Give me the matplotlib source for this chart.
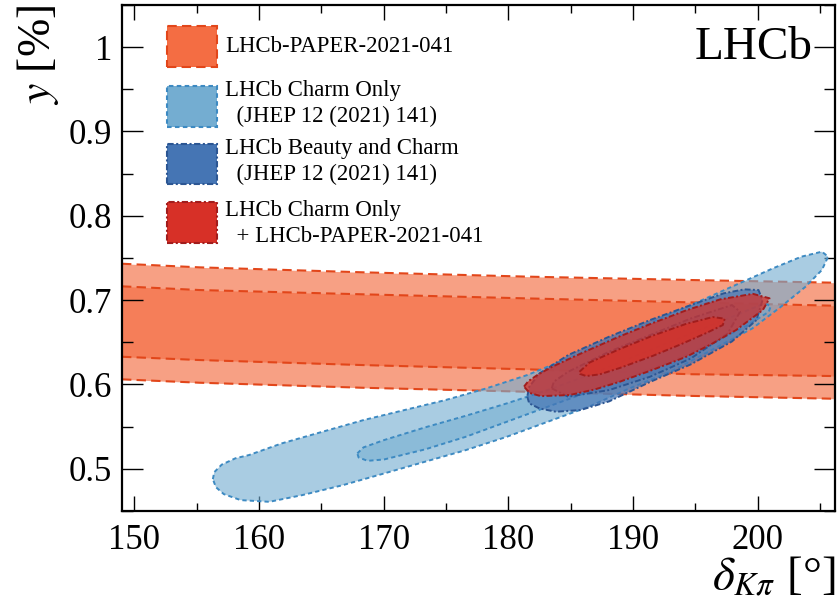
import matplotlib
matplotlib.use('Agg')
import matplotlib.pyplot as plt
from matplotlib.patches import Polygon, Rectangle
from matplotlib.ticker import MultipleLocator
import numpy as np

# ---------------- data ----------------
# LHCb-PAPER-2021-041 band edges (delta_Kpi [deg] -> y [%])
band_delta = [149.0, 155.24, 168.4, 181.5, 194.6, 206.2]
band_outer_hi = [0.7432, 0.7389, 0.7330, 0.7279, 0.7239, 0.7207]
band_inner_hi = [0.7164, 0.7120, 0.7069, 0.7021, 0.6974, 0.6934]
band_inner_lo = [0.6329, 0.6290, 0.6230, 0.6180, 0.6122, 0.6100]
band_outer_lo = [0.6061, 0.6021, 0.5961, 0.5914, 0.5865, 0.5831]

# LHCb Charm Only, outer contour
charm_out_d = [156.29, 156.40, 157.00, 158.10, 159.18, 161.80, 165.09, 168.37, 171.66,
               174.94, 178.23, 181.51, 184.79, 188.08, 191.36, 194.65, 197.93, 201.21,
               203.51, 205.15, 205.65, 205.15, 203.84, 201.87, 199.57, 196.29, 193.00,
               189.72, 186.44, 183.15, 179.87, 176.58, 173.30, 170.02, 166.73, 163.45,
               160.82, 158.52, 157.17, 156.53]
charm_out_y = [0.4878, 0.4960, 0.5050, 0.5125, 0.5163, 0.5301, 0.5440, 0.5578, 0.5697,
               0.5815, 0.5954, 0.6112, 0.6310, 0.6527, 0.6733, 0.6942, 0.7160, 0.7377,
               0.7516, 0.7575, 0.7516, 0.7358, 0.7160, 0.6923, 0.6665, 0.6408, 0.6151,
               0.5954, 0.5736, 0.5558, 0.5380, 0.5222, 0.5084, 0.4945, 0.4807, 0.4688,
               0.4609, 0.4629, 0.4700, 0.4783]
# LHCb Charm Only, inner contour
charm_in_d = [167.88, 168.37, 170.02, 173.30, 176.58, 179.87, 183.15, 186.44, 189.72,
              193.00, 196.29, 198.91, 200.56, 201.05, 200.89, 199.24, 196.29, 193.00,
              189.72, 186.44, 183.15, 179.87, 176.58, 173.30, 170.02, 168.70, 167.98]
charm_in_y = [0.5183, 0.5254, 0.5341, 0.5491, 0.5629, 0.5776, 0.5934, 0.6112, 0.6310,
              0.6507, 0.6705, 0.6863, 0.6962, 0.6930, 0.6863, 0.6705, 0.6488, 0.6270,
              0.6092, 0.5914, 0.5736, 0.5558, 0.5380, 0.5230, 0.5111, 0.5095, 0.5135]
# LHCb Beauty and Charm, outer and inner contours
beauty_out_d = [181.51, 181.67, 182.49, 183.81, 185.78, 188.08, 191.36, 194.65, 197.93,
                199.90, 200.39, 200.06, 198.91, 197.27, 194.65, 191.36, 188.08, 184.79,
                182.49, 181.67]
beauty_out_y = [0.5855, 0.5776, 0.5716, 0.5677, 0.5697, 0.5800, 0.6030, 0.6240, 0.6510,
                0.6764, 0.7002, 0.7120, 0.7128, 0.7081, 0.6942, 0.6764, 0.6567, 0.6349,
                0.6131, 0.5973]
beauty_in_d = [183.48, 184.79, 188.08, 191.36, 194.65, 197.60, 198.58, 197.93, 194.65,
               191.36, 188.08, 184.79, 183.64]
beauty_in_y = [0.5954, 0.5855, 0.5934, 0.6092, 0.6310, 0.6606, 0.6863, 0.6942, 0.6784,
               0.6586, 0.6389, 0.6151, 0.6033]
# LHCb Charm Only + LHCb-PAPER-2021-041, outer and inner contours
comb_out_d = [181.25, 181.60, 182.40, 183.57, 186.00, 188.92, 191.60, 194.27, 197.00,
              199.61, 200.95, 200.41, 198.27, 196.30, 194.27, 191.60, 188.92, 186.90,
              184.91, 182.60, 181.70]
comb_out_y = [0.5975, 0.6040, 0.6120, 0.6215, 0.6380, 0.6570, 0.6730, 0.6880, 0.7010,
              0.7075, 0.7022, 0.6883, 0.6646, 0.6480, 0.6329, 0.6175, 0.6032, 0.5940,
              0.5875, 0.5862, 0.5900]
comb_in_d = [185.70, 186.50, 188.92, 191.59, 194.27, 196.40, 197.35, 197.20, 195.87,
             193.73, 191.59, 188.92, 187.31, 186.25, 185.75]
comb_in_y = [0.6151, 0.6260, 0.6420, 0.6580, 0.6720, 0.6800, 0.6780, 0.6705, 0.6610,
             0.6470, 0.6340, 0.6195, 0.6120, 0.6100, 0.6125]

legend_labels = ["LHCb-PAPER-2021-041",
                 "LHCb Charm Only\n  (JHEP 12 (2021) 141)",
                 "LHCb Beauty and Charm\n  (JHEP 12 (2021) 141)",
                 "LHCb Charm Only\n  + LHCb-PAPER-2021-041"]

x_ticks = [150, 160, 170, 180, 190, 200]
y_ticks = [0.5, 0.6, 0.7, 0.8, 0.9, 1.0]
y_ticklabels = ["0.5", "0.6", "0.7", "0.8", "0.9", "1"]

# ---------------- styling ----------------
c_orange = '#f46d43'
c_orange_edge = '#e2461a'
c_lblue = '#74add1'
c_lblue_edge = '#3d8ac2'
c_dblue = '#4575b4'
c_dblue_edge = '#2c5693'
c_red = '#d73027'
c_red_edge = '#a11d1d'

ls_orange = (0, (4.5, 2.5))
ls_lblue = (0, (2.2, 1.6))
ls_dblue = (0, (3.0, 1.2, 1.0, 1.2))
ls_red = (0, (3.0, 1.2, 1.0, 1.2))

plt.rcParams['font.family'] = ['Liberation Serif', 'DejaVu Serif']
plt.rcParams['mathtext.fontset'] = 'stix'

fig = plt.figure(figsize=(8.38, 6.03), dpi=100)
ax = fig.add_axes([0.14558, 0.15257, 0.85084, 0.83914])

# band
ax.fill_between(band_delta, band_outer_lo, band_outer_hi, color=c_orange, alpha=0.65,
                linewidth=0, zorder=1)
ax.fill_between(band_delta, band_inner_lo, band_inner_hi, color=c_orange, alpha=0.65,
                linewidth=0, zorder=1.1)
for edge in (band_outer_hi, band_inner_hi, band_inner_lo, band_outer_lo):
    ax.plot(band_delta, edge, color=c_orange_edge, linestyle=ls_orange, linewidth=1.5,
            zorder=1.2)


def contour(d, y, face, alpha, edge, ls, lw, z):
    pts = np.column_stack([d, y])
    ax.add_patch(Polygon(pts, closed=True, facecolor=face, alpha=alpha,
                         edgecolor='none', zorder=z))
    ax.add_patch(Polygon(pts, closed=True, fill=False, edgecolor=edge,
                         linestyle=ls, linewidth=lw, zorder=z + 0.05,
                         joinstyle='round'))


contour(charm_out_d, charm_out_y, c_lblue, 0.62, c_lblue_edge, ls_lblue, 1.4, 2)
contour(charm_in_d, charm_in_y, c_lblue, 0.55, c_lblue_edge, ls_lblue, 1.4, 2.2)
contour(beauty_out_d, beauty_out_y, c_dblue, 0.7, c_dblue_edge, ls_dblue, 1.4, 3)
contour(beauty_in_d, beauty_in_y, c_dblue, 0.5, c_dblue_edge, ls_dblue, 1.4, 3.2)
contour(comb_out_d, comb_out_y, c_red, 0.72, c_red_edge, ls_red, 1.4, 4)
contour(comb_in_d, comb_in_y, c_red, 0.75, c_red_edge, ls_red, 1.4, 4.2)

# axes
ax.set_xlim(149, 206.2)
ax.set_ylim(0.45, 1.05)
ax.set_xticks(x_ticks)
ax.set_xticklabels([str(t) for t in x_ticks])
ax.set_yticks(y_ticks)
ax.set_yticklabels(y_ticklabels)
ax.xaxis.set_minor_locator(MultipleLocator(5))
ax.yaxis.set_minor_locator(MultipleLocator(0.05))
ax.tick_params(axis='both', which='both', direction='in', top=True, right=True,
               labelsize=25, colors='black')
ax.tick_params(axis='x', which='major', length=10.8, width=1.0, pad=9)
ax.tick_params(axis='x', which='minor', length=5.8, width=1.0)
ax.tick_params(axis='y', which='major', length=15, width=1.0, pad=7)
ax.tick_params(axis='y', which='minor', length=8, width=1.0)
for sp in ax.spines.values():
    sp.set_linewidth(1.6)
    sp.set_zorder(10)

ax.set_xlabel(r'$\delta_{K\pi}$ [°]', fontsize=34)
ax.xaxis.label.set_ha('right')
ax.xaxis.label.set_va('center')
ax.xaxis.set_label_coords(1.0, -0.132)

ax.set_ylabel(r'$y$ [%]', fontsize=33)
ax.yaxis.label.set_rotation_mode('default')
ax.yaxis.label.set_ha('center')
ax.yaxis.label.set_va('top')
ax.yaxis.set_label_coords(-0.118, 1.0)

ax.text(0.968, 0.915, 'LHCb', transform=ax.transAxes, ha='right', va='center',
        fontsize=34, zorder=11)

# legend (manual)
leg_faces = [c_orange, c_lblue, c_dblue, c_red]
leg_edges = [c_orange_edge, c_lblue_edge, c_dblue_edge, c_red_edge]
leg_ls = [ls_orange, ls_lblue, ls_dblue, ls_red]
box_bottoms = [0.878, 0.759, 0.646, 0.530]
text_y = [0.917, 0.805, 0.690, 0.568]
for fc, ec, ls, bb, ty, lab in zip(leg_faces, leg_edges, leg_ls, box_bottoms, text_y,
                                   legend_labels):
    ax.add_patch(Rectangle((0.0631, bb), 0.0701, 0.080, transform=ax.transAxes,
                           facecolor=fc, edgecolor=ec, linestyle=ls, linewidth=1.5,
                           zorder=11, clip_on=False))
    ax.text(0.1445, ty, lab, transform=ax.transAxes, ha='left', va='center',
            fontsize=16.4, linespacing=1.3, zorder=11)

fig.savefig('out.png', dpi=100)
